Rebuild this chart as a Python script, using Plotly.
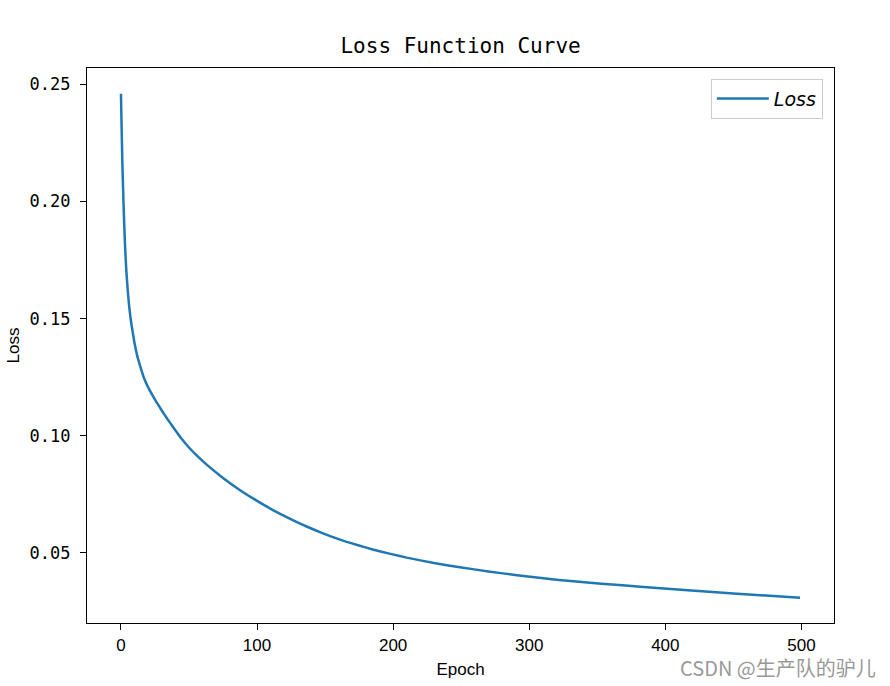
import plotly.graph_objects as go

epochs = [0, 1, 2, 3, 4, 5, 6, 7, 8, 10, 12, 14, 17, 20, 23, 26, 30, 34, 38, 44, 50, 56,
          63, 75, 87, 100, 112, 124, 136, 148, 161, 173, 185, 198, 210, 230, 249, 270,
          291, 320, 353, 384, 414, 450, 499]
loss = [0.246, 0.217, 0.197, 0.181, 0.170, 0.162, 0.1555, 0.1505, 0.1465, 0.1395, 0.134,
        0.1300, 0.1246, 0.1207, 0.1175, 0.1145, 0.1108, 0.1073, 0.1040, 0.0992, 0.0950,
        0.0914, 0.0877, 0.0820, 0.0770, 0.0722, 0.0682, 0.0647, 0.0614, 0.0585, 0.0557,
        0.0535, 0.0515, 0.0496, 0.0480, 0.0457, 0.0439, 0.0421, 0.0405, 0.0386, 0.0369,
        0.0355, 0.0342, 0.0327, 0.0309]
x_ticks = [0, 100, 200, 300, 400, 500]
y_ticks = [0.05, 0.10, 0.15, 0.20, 0.25]

fig = go.Figure()
fig.add_trace(go.Scatter(x=epochs, y=loss, mode="lines", name="Loss",
                         line=dict(color="#1f77b4", width=2.5, shape="spline", smoothing=0.4)))

fig.update_layout(
    width=890, height=686,
    margin=dict(l=87, r=56, t=68, b=63),
    paper_bgcolor="white", plot_bgcolor="white",
    title=dict(text="Loss Function Curve", x=0.5175, xanchor="center", y=0.934, yanchor="middle",
               font=dict(family="DejaVu Sans Mono", size=21, color="black")),
    showlegend=True,
    legend=dict(x=0.985, y=0.981, xanchor="right", yanchor="top", itemwidth=52,
                bordercolor="#cccccc", borderwidth=1, bgcolor="white",
                font=dict(family="DejaVu Sans", size=19, color="black", style="italic")),
    xaxis=dict(range=[-24.95, 523.95], tickvals=x_ticks, showgrid=False, zeroline=False,
               showline=True, linecolor="black", linewidth=1.3, mirror=True,
               ticks="outside", ticklen=6, tickcolor="black",
               tickfont=dict(family="Liberation Sans", size=17, color="black"),
               title=dict(text="Epoch", standoff=9,
                          font=dict(family="Liberation Sans", size=17, color="black"))),
    yaxis=dict(range=[0.0201, 0.2570], tickvals=y_ticks, tickformat=".2f", showgrid=False,
               zeroline=False, showline=True, linecolor="black", linewidth=1.3, mirror=True,
               ticks="outside", ticklen=6, tickcolor="black", ticklabelstandoff=6,
               tickfont=dict(family="DejaVu Sans Mono", size=17, color="black"),
               title=dict(text="Loss", standoff=5,
                          font=dict(family="Liberation Sans", size=17, color="black"))),
)

fig.add_annotation(text="CSDN @生产队的驴儿", xref="paper", yref="paper",
                   x=1.0585, y=-0.08, xanchor="right", yanchor="middle", showarrow=False,
                   font=dict(family="Noto Sans CJK SC", size=20, color="#999999"))

fig.write_html("out.html")
